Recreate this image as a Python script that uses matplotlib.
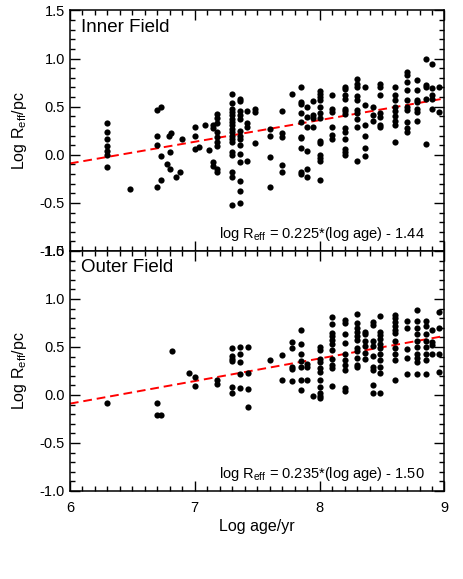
import matplotlib
matplotlib.use("Agg")
import matplotlib.pyplot as plt
from matplotlib.ticker import MultipleLocator

plt.rcParams["font.family"] = ["Liberation Sans", "DejaVu Sans"]
plt.rcParams["mathtext.fontset"] = "custom"
plt.rcParams["mathtext.rm"] = "Liberation Sans"
plt.rcParams["mathtext.it"] = "Liberation Sans:italic"

# inner field: (log age, log Reff)
inner_age = [
    6.30, 6.30, 6.30, 6.30, 6.30, 6.30, 6.30,
    6.48,
    6.70, 6.70, 6.70, 6.70, 6.73, 6.73, 6.73,
    6.79, 6.81, 6.80, 6.78, 6.80, 6.85, 6.88, 6.90,
    7.00, 7.00, 7.00, 7.03, 7.08, 7.11,
    7.15, 7.18, 7.18, 7.18, 7.15, 7.18, 7.18, 7.18, 7.18, 7.15, 7.15, 7.18, 7.18,
    7.30, 7.30, 7.30, 7.30, 7.30, 7.30, 7.30, 7.30, 7.30, 7.30, 7.30, 7.30, 7.30,
    7.30, 7.30, 7.30, 7.30, 7.30,
    7.36, 7.36, 7.36, 7.36, 7.36, 7.36, 7.36, 7.36, 7.36, 7.36, 7.36, 7.36, 7.36, 7.36,
    7.42, 7.42, 7.42, 7.42,
    7.48, 7.48, 7.48,
    7.60, 7.60, 7.60, 7.60,
    7.70, 7.70, 7.70, 7.70, 7.70,
    7.78,
    7.85, 7.85, 7.85, 7.85, 7.85, 7.85, 7.85, 7.85, 7.85, 7.85,
    7.90, 7.90, 7.90, 7.90, 7.90, 7.90,
    7.95, 7.95, 7.95, 7.95,
    8.00, 8.00, 8.00, 8.00, 8.00, 8.00, 8.00, 8.00, 8.00, 8.00, 8.00, 8.00, 8.00,
    8.10, 8.10, 8.10, 8.10, 8.10, 8.10,
    8.20, 8.20, 8.20, 8.20, 8.20, 8.20, 8.20, 8.20, 8.20, 8.20, 8.20, 8.20, 8.20,
    8.30, 8.30, 8.30, 8.30, 8.30, 8.30, 8.30, 8.30, 8.30, 8.30,
    8.36, 8.36, 8.36, 8.36, 8.36, 8.36,
    8.43, 8.43, 8.43,
    8.48, 8.48, 8.48, 8.48, 8.48, 8.48, 8.48,
    8.60, 8.60, 8.60, 8.60, 8.60, 8.60, 8.60, 8.60, 8.60,
    8.70, 8.70, 8.70, 8.70, 8.70, 8.70, 8.70, 8.70, 8.70, 8.70,
    8.78, 8.78, 8.78, 8.78, 8.78, 8.78, 8.78,
    8.85, 8.85, 8.85, 8.85, 8.85,
    8.90, 8.90, 8.90, 8.90, 8.90,
    8.96, 8.96,
]
inner_reff = [
    0.33, 0.24, 0.16, 0.09, 0.04, 0.00, -0.13,
    -0.36,
    0.47, 0.20, 0.10, -0.34, 0.50, -0.01, -0.26,
    0.20, 0.225, 0.03, -0.10, -0.15, -0.23, -0.18, 0.16,
    0.29, 0.19, 0.06, 0.08, 0.31, 0.045,
    0.31, 0.42, 0.38, 0.33, 0.28, 0.24, 0.18, 0.13, 0.09, -0.08, -0.12, -0.15, -0.18,
    0.63, 0.54, 0.48, 0.44, 0.41, 0.37, 0.34, 0.31, 0.27, 0.24, 0.20, 0.16, 0.13,
    0.03, 0.00, -0.18, -0.23, -0.52,
    0.58, 0.555, 0.46, 0.41, 0.37, 0.25, 0.20, 0.16, 0.10, 0.01, -0.08, -0.27, -0.38, -0.50,
    0.45, 0.33, 0.29, -0.06,
    0.48, 0.44, 0.12,
    0.27, 0.20, -0.02, -0.34,
    0.46, 0.225, 0.18, -0.11, -0.18,
    0.63,
    0.70, 0.545, 0.53, 0.43, 0.34, 0.18, 0.17, 0.07, -0.18, -0.20,
    0.50, 0.39, 0.29, 0.04, -0.15, -0.23,
    0.555, 0.41, 0.385, 0.29,
    0.66, 0.635, 0.60, 0.57, 0.50, 0.43, 0.385, 0.14, 0.12, 0.00, -0.03, -0.06, -0.26,
    0.62, 0.48, 0.44, 0.29, 0.21, 0.16,
    0.70, 0.68, 0.62, 0.58, 0.48, 0.455, 0.42, 0.28, 0.235, 0.16, 0.06, 0.03, 0.00,
    0.79, 0.74, 0.70, 0.61, 0.57, 0.47, 0.43, 0.375, 0.29, -0.06,
    0.70, 0.52, 0.31, 0.20, 0.07, -0.01,
    0.50, 0.41, 0.35,
    0.74, 0.70, 0.62, 0.43, 0.39, 0.31, 0.29,
    0.70, 0.62, 0.57, 0.50, 0.46, 0.40, 0.35, 0.31, 0.13,
    0.86, 0.83, 0.76, 0.67, 0.57, 0.50, 0.47, 0.34, 0.28, 0.235,
    0.78, 0.67, 0.57, 0.545, 0.48, 0.44, 0.35,
    0.99, 0.72, 0.70, 0.58, 0.11,
    0.94, 0.69, 0.62, 0.58, 0.48,
    0.70, 0.44,
]

# outer field
outer_age = [
    6.30, 6.70, 6.70, 6.73, 6.82, 6.95, 7.00, 7.00, 7.18, 7.18,
    7.30, 7.30, 7.30, 7.30, 7.30, 7.30,
    7.36, 7.36, 7.36, 7.36, 7.36,
    7.43, 7.43, 7.43, 7.43,
    7.60, 7.70, 7.70,
    7.78, 7.78, 7.78, 7.78, 7.78,
    7.85, 7.85, 7.85, 7.85, 7.85, 7.85, 7.85,
    7.90, 7.90, 7.90, 7.95,
    8.00, 8.00, 8.00, 8.00, 8.00, 8.00, 8.00, 8.00, 8.00, 8.00, 8.00,
    8.10, 8.10, 8.10, 8.10, 8.10, 8.10, 8.10, 8.10, 8.10, 8.10, 8.10,
    8.20, 8.20, 8.20, 8.20, 8.20, 8.20, 8.20, 8.20, 8.20, 8.20,
    8.30, 8.30, 8.30, 8.30, 8.30, 8.30, 8.30, 8.30, 8.30, 8.30, 8.30,
    8.36, 8.36, 8.36, 8.36, 8.36, 8.36,
    8.43, 8.43, 8.43, 8.43, 8.43, 8.43, 8.43, 8.43, 8.43,
    8.48, 8.48, 8.48, 8.48, 8.48, 8.48, 8.48, 8.48, 8.48, 8.48, 8.48,
    8.60, 8.60, 8.60, 8.60, 8.60, 8.60, 8.60, 8.60, 8.60, 8.60, 8.60,
    8.70, 8.70, 8.70, 8.70, 8.70,
    8.78, 8.78, 8.78, 8.78, 8.78, 8.78, 8.78, 8.78, 8.78, 8.78,
    8.85, 8.85, 8.85, 8.85, 8.85, 8.85, 8.85, 8.85,
    8.90, 8.90, 8.90, 8.90,
    8.96, 8.96, 8.96, 8.96,
]
outer_reff = [
    -0.08, -0.08, -0.21, -0.21, 0.46, 0.23, 0.19, 0.09, 0.16, 0.11,
    0.49, 0.41, 0.38, 0.35, 0.08, 0.02,
    0.50, 0.43, 0.34, 0.22, 0.07,
    0.50, 0.23, 0.06, -0.13,
    0.36, 0.42, 0.16,
    0.555, 0.49, 0.29, 0.27, 0.15,
    0.68, 0.53, 0.43, 0.35, 0.295, 0.16, 0.05,
    0.32, 0.295, 0.16, -0.01,
    0.50, 0.47, 0.37, 0.34, 0.28, 0.24, 0.16, 0.08, 0.02, -0.01, -0.03,
    0.81, 0.74, 0.65, 0.61, 0.57, 0.53, 0.47, 0.37, 0.31, 0.28, 0.09,
    0.78, 0.75, 0.64, 0.545, 0.43, 0.36, 0.31, 0.26, 0.07, 0.045,
    0.84, 0.75, 0.70, 0.66, 0.61, 0.57, 0.49, 0.46, 0.39, 0.31, 0.29,
    0.66, 0.635, 0.565, 0.51, 0.44, 0.38,
    0.76, 0.73, 0.565, 0.51, 0.41, 0.295, 0.26, 0.10, 0.02,
    0.82, 0.66, 0.625, 0.58, 0.53, 0.49, 0.43, 0.36, 0.295, 0.23, 0.02,
    0.83, 0.80, 0.76, 0.72, 0.68, 0.65, 0.565, 0.49, 0.43, 0.36, 0.16,
    0.77, 0.70, 0.48, 0.39, 0.22,
    0.89, 0.77, 0.70, 0.635, 0.565, 0.50, 0.43, 0.39, 0.34, 0.22,
    0.77, 0.72, 0.635, 0.565, 0.50, 0.43, 0.36, 0.22,
    0.68, 0.555, 0.52, 0.43,
    0.86, 0.70, 0.43, 0.24,
]

fits = [(0.225, -1.44), (0.235, -1.50)]
labels = ["Inner Field", "Outer Field"]
fit_labels = ["log R$_{\\rm eff}$ = 0.225*(log age) - 1.44",
              "log R$_{\\rm eff}$ = 0.235*(log age) - 1.50"]

fig = plt.figure(figsize=(4.63, 5.79), dpi=100)
ax1 = fig.add_axes([0.151, 0.5665, 0.809, 0.4155])
ax2 = fig.add_axes([0.151, 0.152, 0.809, 0.4145])

for ax, xs, ys, fit, lab, flab in zip(
        [ax1, ax2], [inner_age, outer_age], [inner_reff, outer_reff],
        fits, labels, fit_labels):
    ax.scatter(xs, ys, s=20, color="black", linewidths=0, zorder=3)
    fx = [6, 9]
    ax.plot(fx, [fit[0] * v + fit[1] for v in fx], color="red",
            linestyle=(0, (4.5, 2.5)), linewidth=1.4, zorder=2)
    ax.set_xlim(6, 9)
    ax.set_ylim(-1.0, 1.5)
    ax.xaxis.set_major_locator(MultipleLocator(1))
    ax.xaxis.set_minor_locator(MultipleLocator(0.1))
    ax.yaxis.set_major_locator(MultipleLocator(0.5))
    ax.yaxis.set_minor_locator(MultipleLocator(0.1))
    ax.yaxis.set_major_formatter(matplotlib.ticker.FormatStrFormatter("%.1f"))
    ax.tick_params(which="both", direction="in", top=True, right=True,
                   labelsize=10.5, width=1)
    ax.tick_params(which="major", length=7)
    ax.tick_params(which="minor", length=3.5)
    for sp in ax.spines.values():
        sp.set_linewidth(1.1)
    ax.set_ylabel("Log R$_{\\rm eff}$/pc", fontsize=11.5, labelpad=8)
    ax.text(0.03, 0.965, lab, transform=ax.transAxes, fontsize=13.5,
            ha="left", va="top")
    ax.text(0.947, 0.07, flab, transform=ax.transAxes, fontsize=10.5,
            ha="right", va="center")

ax1.tick_params(labelbottom=False)
ax2.tick_params(axis="x", pad=7)
ax2.set_xlabel("Log age/yr", fontsize=11.5, labelpad=3)

fig.savefig("out.png", dpi=100)
